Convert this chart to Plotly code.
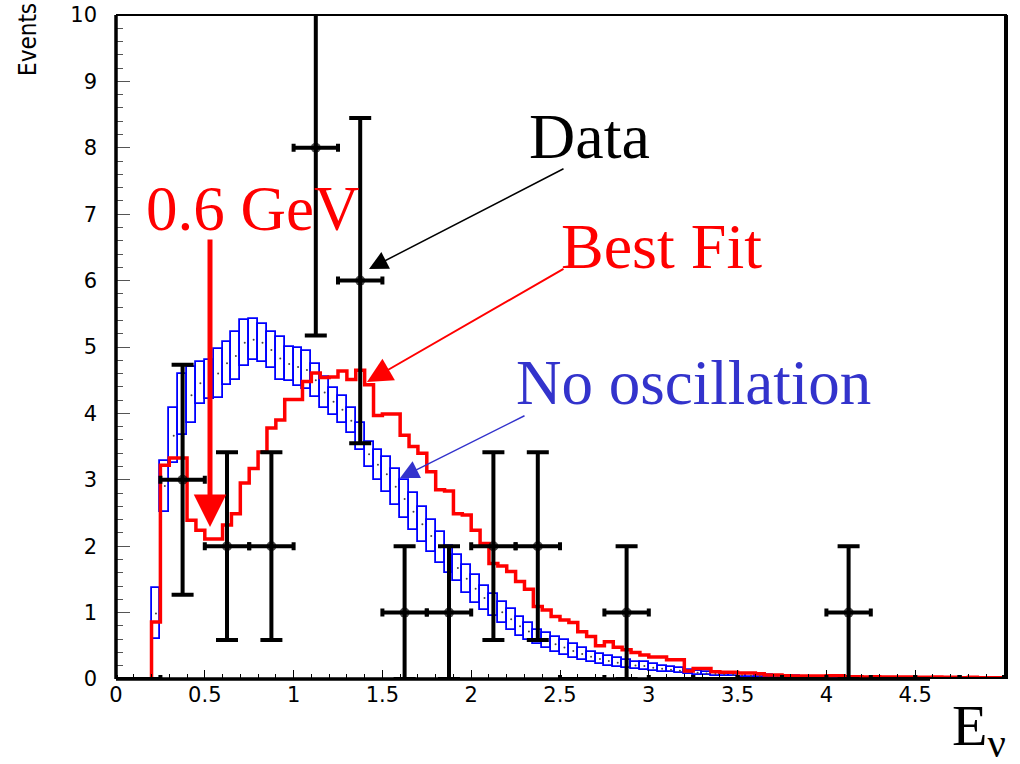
import numpy as np
import plotly.graph_objects as go

# ---------------- data ----------------
# MC histograms: 0.05 GeV bins starting at 0.2 GeV
mc_bin_start = 0.2
mc_bin_width = 0.05

best_fit = [
    0.86, 3.22, 3.33, 3.33, 2.39, 2.24, 2.11, 2.11, 2.32, 2.49,
    2.95, 3.17, 3.42, 3.78, 3.90, 4.21, 4.21, 4.48, 4.61, 4.54,
    4.55, 4.64, 4.51, 4.65, 4.43, 3.97, 3.99, 3.99, 3.67, 3.50,
    3.40, 3.12, 2.85, 2.83, 2.49, 2.47, 2.24, 2.04, 1.74, 1.70,
    1.62, 1.47, 1.35, 1.09, 1.04, 0.94, 0.89, 0.85, 0.71, 0.64,
    0.50, 0.56, 0.48, 0.44, 0.40, 0.36, 0.33, 0.33, 0.29, 0.29,
    0.12, 0.16, 0.16, 0.11, 0.10, 0.10, 0.09, 0.09, 0.08, 0.06,
    0.06, 0.05, 0.045, 0.045, 0.045, 0.045, 0.05, 0.05, 0.035, 0.035,
    0.03, 0.035, 0.03, 0.03, 0.03, 0.03, 0.025, 0.025, 0.03, 0.025,
    0.025, 0.02, 0.025, 0.02, 0.02, 0.02,
]

no_osc_low = [
    0.60, 2.52, 3.25, 3.67, 3.85, 4.14, 4.21, 4.23, 4.43, 4.50,
    4.72, 4.80, 4.78, 4.68, 4.50, 4.49, 4.42, 4.37, 4.25, 4.08,
    3.97, 3.85, 3.70, 3.45, 3.20, 3.00, 2.82, 2.62, 2.42, 2.24,
    2.07, 1.92, 1.75, 1.60, 1.47, 1.30, 1.15, 1.04, 0.95, 0.85,
    0.74, 0.65, 0.59, 0.53, 0.46, 0.41, 0.36, 0.31, 0.29, 0.26,
    0.23, 0.20, 0.18, 0.16, 0.15, 0.14, 0.12, 0.11, 0.10, 0.09,
    0.08, 0.065, 0.055, 0.05, 0.045, 0.04, 0.035, 0.03, 0.028, 0.025,
    0.022, 0.02, 0.018, 0.016, 0.014, 0.012, 0.011, 0.010, 0.009, 0.008,
    0.007, 0.006, 0.006, 0.005, 0.005, 0.004, 0.004, 0.004, 0.003, 0.003,
    0.003, 0.003, 0.002, 0.002, 0.002, 0.002,
]

no_osc_high = [
    1.37, 3.29, 4.08, 4.59, 4.70, 4.77, 4.81, 4.97, 5.08, 5.23,
    5.41, 5.42, 5.35, 5.23, 5.15, 5.00, 4.98, 4.94, 4.75, 4.55,
    4.38, 4.26, 4.08, 3.85, 3.57, 3.45, 3.35, 3.17, 3.00, 2.80,
    2.59, 2.39, 2.22, 2.01, 1.87, 1.72, 1.57, 1.40, 1.28, 1.16,
    1.06, 0.94, 0.84, 0.74, 0.70, 0.64, 0.59, 0.53, 0.46, 0.41,
    0.37, 0.34, 0.31, 0.29, 0.26, 0.25, 0.22, 0.20, 0.18, 0.16,
    0.14, 0.12, 0.11, 0.10, 0.095, 0.085, 0.075, 0.07, 0.062, 0.055,
    0.05, 0.045, 0.04, 0.036, 0.032, 0.03, 0.027, 0.025, 0.022, 0.02,
    0.018, 0.016, 0.015, 0.013, 0.012, 0.011, 0.010, 0.009, 0.008, 0.008,
    0.007, 0.007, 0.006, 0.006, 0.005, 0.005,
]

# Data: 0.25 GeV bins
data_center = [0.125, 0.375, 0.625, 0.875, 1.125, 1.375, 1.625, 1.875, 2.125, 2.375,
               2.625, 2.875, 3.125, 3.375, 3.625, 3.875, 4.125, 4.375, 4.625, 4.875]
data_events = [0, 3, 2, 2, 8, 6, 1, 1, 2, 2,
               0, 1, 0, 0, 0, 0, 1, 0, 0, 0]
data_half_width = 0.125

x_tick_vals = [0, 0.5, 1, 1.5, 2, 2.5, 3, 3.5, 4, 4.5]
x_tick_text = ["0", "0.5", "1", "1.5", "2", "2.5", "3", "3.5", "4", "4.5"]
y_tick_vals = [0, 1, 2, 3, 4, 5, 6, 7, 8, 9, 10]

assert len(best_fit) == len(no_osc_low) == len(no_osc_high) == 96

# ---------------- figure ----------------
n_mc = len(best_fit)
edges = [round(mc_bin_start + mc_bin_width * i, 4) for i in range(n_mc + 1)]
centers = [e + mc_bin_width / 2 for e in edges[:-1]]
lo = np.array(no_osc_low)
hi = np.array(no_osc_high)

fig = go.Figure()

# No-oscillation error boxes
fig.add_trace(go.Bar(
    x=centers, y=hi - lo, base=lo, width=mc_bin_width,
    marker=dict(color="rgba(255,255,255,0)", line=dict(color="#0000ff", width=1.8)),
    hoverinfo="skip", showlegend=False,
))
fig.add_trace(go.Scatter(
    x=centers, y=(lo + hi) / 2, mode="markers",
    marker=dict(color="#444444", size=2), hoverinfo="skip", showlegend=False,
))

# Best fit step histogram
fig.add_trace(go.Scatter(
    x=[edges[0]] + edges[:-1] + [edges[-1]],
    y=[0] + best_fit + [best_fit[-1]],
    mode="lines", line=dict(color="#ff0000", width=3.5, shape="hv"),
    hoverinfo="skip", showlegend=False,
))

# Data points
ev = np.array(data_events, dtype=float)
fig.add_trace(go.Scatter(
    x=data_center, y=data_events, mode="markers",
    marker=dict(color="black", size=[10 if v > 0 else 0 for v in data_events],
                line=dict(width=0)),
    error_y=dict(type="data", array=np.sqrt(ev), thickness=4, width=11, color="black"),
    error_x=dict(type="data", array=[data_half_width] * len(data_center),
                 thickness=4, width=4, color="black"),
    showlegend=False,
))

L, R, T, B = 116, 16, 15, 85
W, H = 1020, 764
pw, ph = W - L - R, H - T - B


def px(x):
    return (x - L) / pw


def py(y):
    return (H - B - y) / ph


serif = "Liberation Serif, Times New Roman, serif"
anns = []
# text labels
anns.append(dict(text="Data", x=px(527), y=py(137), xref="paper", yref="paper",
                 xanchor="left", yanchor="middle", showarrow=False,
                 font=dict(family=serif, size=64, color="black")))
anns.append(dict(text="Best Fit", x=px(559), y=py(246), xref="paper", yref="paper",
                 xanchor="left", yanchor="middle", showarrow=False,
                 font=dict(family=serif, size=64, color="#ff0000")))
anns.append(dict(text="No oscillation", x=px(514), y=py(383), xref="paper", yref="paper",
                 xanchor="left", yanchor="middle", showarrow=False,
                 font=dict(family=serif, size=63, color="#3333cc")))
anns.append(dict(text="0.6 GeV", x=px(144), y=py(209), xref="paper", yref="paper",
                 xanchor="left", yanchor="middle", showarrow=False,
                 font=dict(family=serif, size=63, color="#ff0000")))
anns.append(dict(text="E<sub>ν</sub>", x=px(1008), y=py(729), xref="paper", yref="paper",
                 xanchor="right", yanchor="middle", showarrow=False,
                 font=dict(family=serif, size=58, color="black")))
anns.append(dict(text="Events", x=px(28), y=py(40), xref="paper", yref="paper",
                 xanchor="center", yanchor="middle", showarrow=False, textangle=-90,
                 font=dict(family="Liberation Sans Narrow, DejaVu Sans Condensed, Arial Narrow, sans-serif",
                           size=24, color="black")))

# arrows (data coordinates)
def dx(p):
    return (p - L) / pw * 5.0


def dy(p):
    return (H - B - p) / ph * 10.0


anns.append(dict(text="", x=dx(369), y=dy(269), ax=dx(565), ay=dy(168),
                 xref="x", yref="y", axref="x", ayref="y", showarrow=True,
                 arrowhead=2, arrowsize=2.5, arrowwidth=1.5, arrowcolor="black"))
anns.append(dict(text="", x=dx(367), y=dy(382), ax=dx(565), ay=dy(268),
                 xref="x", yref="y", axref="x", ayref="y", showarrow=True,
                 arrowhead=2, arrowsize=2.5, arrowwidth=2, arrowcolor="#ff0000"))
anns.append(dict(text="", x=dx(400), y=dy(478), ax=dx(526), ay=dy(415),
                 xref="x", yref="y", axref="x", ayref="y", showarrow=True,
                 arrowhead=2, arrowsize=2.5, arrowwidth=1.5, arrowcolor="#3333cc"))
anns.append(dict(text="", x=dx(210), y=dy(527), ax=dx(210), ay=dy(238),
                 xref="x", yref="y", axref="x", ayref="y", showarrow=True,
                 arrowhead=2, arrowsize=1.3, arrowwidth=5, arrowcolor="#ff0000"))

shapes = [
    dict(type="line", xref="paper", yref="paper", x0=0, x1=0, y0=0, y1=1.0,
         line=dict(color="black", width=3.5)),
    dict(type="line", xref="paper", yref="paper", x0=0, x1=px(930), y0=0, y1=0,
         line=dict(color="black", width=3.5)),
    dict(type="line", xref="paper", yref="paper", x0=0, x1=px(1007), y0=1, y1=1,
         line=dict(color="black", width=2)),
    dict(type="line", xref="paper", yref="paper", x0=px(1006), x1=px(1006), y0=0, y1=1.0,
         line=dict(color="black", width=4)),
    dict(type="rect", xref="paper", yref="paper", x0=px(931), x1=px(1003),
         y0=py(708), y1=py(682), fillcolor="white", line=dict(width=0), layer="above"),
]

tickfont = dict(family="DejaVu Sans, Liberation Sans, Arial, sans-serif", size=21, color="black")

fig.update_layout(
    width=W, height=H,
    margin=dict(l=L, r=R, t=T, b=B, pad=0, autoexpand=False),
    paper_bgcolor="white", plot_bgcolor="white",
    barmode="overlay", bargap=0,
    showlegend=False,
    annotations=anns, shapes=shapes,
    xaxis=dict(range=[0, 5], tickvals=x_tick_vals, ticktext=x_tick_text,
               ticks="inside", ticklen=9, tickwidth=1, tickcolor="black",
               minor=dict(dtick=0.1, ticks="inside", ticklen=5, tickcolor="black", tickwidth=1),
               showgrid=False, zeroline=False, showline=False, tickfont=tickfont,
               ticklabelstandoff=1, automargin=False),
    yaxis=dict(range=[0, 10], tickvals=y_tick_vals,
               ticks="inside", ticklen=14, tickwidth=1, tickcolor="#555555",
               minor=dict(dtick=0.2, ticks="inside", ticklen=7, tickcolor="#555555", tickwidth=1),
               showgrid=False, zeroline=False, showline=False, tickfont=tickfont,
               ticklabelstandoff=18, automargin=False),
)

fig.write_html("out.html")
